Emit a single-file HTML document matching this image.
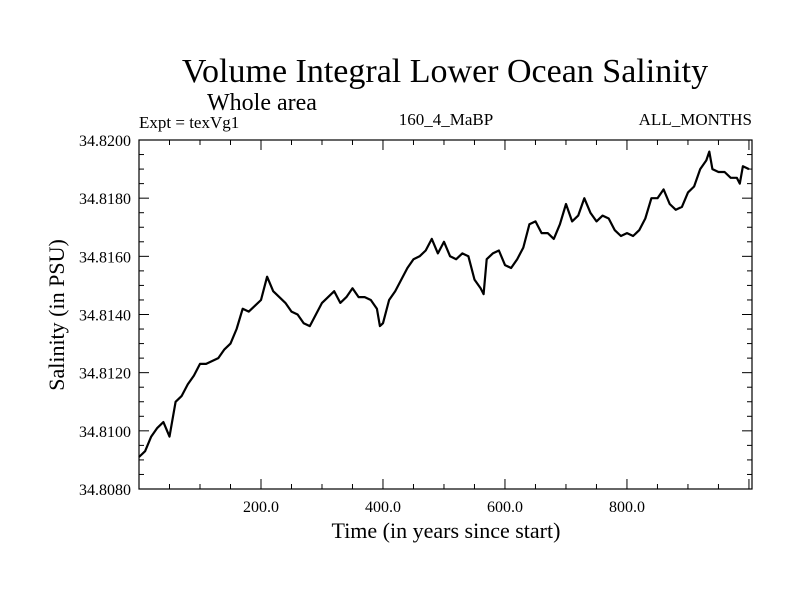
<!DOCTYPE html>
<html><head><meta charset="utf-8"><style>
body{margin:0;background:#fff;}
svg text{font-family:"Liberation Serif",serif;fill:#000;}
</style></head><body>
<svg width="800" height="600" viewBox="0 0 800 600">
<g id="chart"></g>
</svg>
<script>
const years=[0,10,20,30,40,50,60,70,80,90,100,110,120,130,140,150,160,170,180,190,200,210,220,230,240,250,260,270,280,290,300,310,320,330,340,350,360,370,380,390,395,400,410,420,430,440,450,460,470,480,490,500,510,520,530,540,550,560,565,570,580,590,600,610,620,630,640,650,660,670,680,690,700,710,720,730,740,750,760,770,780,790,800,810,820,830,840,850,860,870,880,890,900,910,920,930,935,940,950,960,970,980,985,990,1000];
const salinity=[34.8091,34.8093,34.8098,34.8101,34.8103,34.8098,34.8110,34.8112,34.8116,34.8119,34.8123,34.8123,34.8124,34.8125,34.8128,34.8130,34.8135,34.8142,34.8141,34.8143,34.8145,34.8153,34.8148,34.8146,34.8144,34.8141,34.8140,34.8137,34.8136,34.8140,34.8144,34.8146,34.8148,34.8144,34.8146,34.8149,34.8146,34.8146,34.8145,34.8142,34.8136,34.8137,34.8145,34.8148,34.8152,34.8156,34.8159,34.8160,34.8162,34.8166,34.8161,34.8165,34.8160,34.8159,34.8161,34.8160,34.8152,34.8149,34.8147,34.8159,34.8161,34.8162,34.8157,34.8156,34.8159,34.8163,34.8171,34.8172,34.8168,34.8168,34.8166,34.8171,34.8178,34.8172,34.8174,34.8180,34.8175,34.8172,34.8174,34.8173,34.8169,34.8167,34.8168,34.8167,34.8169,34.8173,34.8180,34.8180,34.8183,34.8178,34.8176,34.8177,34.8182,34.8184,34.8190,34.8193,34.8196,34.8190,34.8189,34.8189,34.8187,34.8187,34.8185,34.8191,34.8190];
const yTicks=[34.808,34.810,34.812,34.814,34.816,34.818,34.820];
const yTickLabels=["34.8080","34.8100","34.8120","34.8140","34.8160","34.8180","34.8200"];
const xTicks=[200,400,600,800];
const xTickLabels=["200.0","400.0","600.0","800.0"];

const L=139,R=752,T=140,B=489;
const xMin=0,xMax=1005,yMin=34.808,yMax=34.820;
const sx=v=>L+(v-xMin)/(xMax-xMin)*(R-L);
const sy=v=>B-(v-yMin)/(yMax-yMin)*(B-T);
const NS="http://www.w3.org/2000/svg";
const g=document.getElementById('chart');
function mk(tag,attrs,txt){const e=document.createElementNS(NS,tag);for(const k in attrs)e.setAttribute(k,attrs[k]);if(txt!==undefined)e.textContent=txt;g.appendChild(e);return e;}

let t;
t=mk('text',{x:445,y:82,'font-size':34,'text-anchor':'middle'},'Volume Integral Lower Ocean Salinity');


t=mk('text',{x:262,y:110,'font-size':24,'text-anchor':'middle'},'Whole area');


t=mk('text',{x:139,y:128,'font-size':17},'Expt = texVg1');


t=mk('text',{x:446,y:125,'font-size':17,'text-anchor':'middle'},'160_4_MaBP');


t=mk('text',{x:752,y:125,'font-size':17,'text-anchor':'end'},'ALL_MONTHS');



const frame=mk('rect',{x:L,y:T,width:R-L,height:B-T,fill:'none',stroke:'#000','stroke-width':1.2});



// minor ticks
for(let v=50;v<xMax;v+=50){
  const major=v%200===0, len=major?10:5;
  const a=mk('line',{x1:sx(v),x2:sx(v),y1:B,y2:B-len,stroke:'#000'});
  
  
  const b=mk('line',{x1:sx(v),x2:sx(v),y1:T,y2:T+len,stroke:'#000'});
  
  
}
for(let i=1;i<24;i++){
  const v=yMin+i*0.0005, major=i%4===0, len=major?10:5;
  const a=mk('line',{x1:L,x2:L+len,y1:sy(v),y2:sy(v),stroke:'#000'});
  
  
  const b=mk('line',{x1:R,x2:R-len,y1:sy(v),y2:sy(v),stroke:'#000'});
  
  
}
xTicks.forEach((v,i)=>{
  const e=mk('text',{x:sx(v),y:512,'font-size':16,'text-anchor':'middle'},xTickLabels[i]);
  
  
});
yTicks.forEach((v,i)=>{
  const e=mk('text',{x:131,y:sy(v)+6,'font-size':16,'text-anchor':'end'},yTickLabels[i]);
  
  
});
t=mk('text',{x:446,y:538,'font-size':22,'text-anchor':'middle'},'Time (in years since start)');


t=mk('text',{x:0,y:0,'font-size':22,'text-anchor':'middle',transform:'translate(64,315) rotate(-90)'},'Salinity (in PSU)');



const pts=years.map((y,i)=>sx(y).toFixed(1)+','+sy(salinity[i]).toFixed(1)).join(' ');
const line=mk('polyline',{points:pts,fill:'none',stroke:'#000','stroke-width':2.2,'stroke-linejoin':'round'});


</script>
</body></html>
